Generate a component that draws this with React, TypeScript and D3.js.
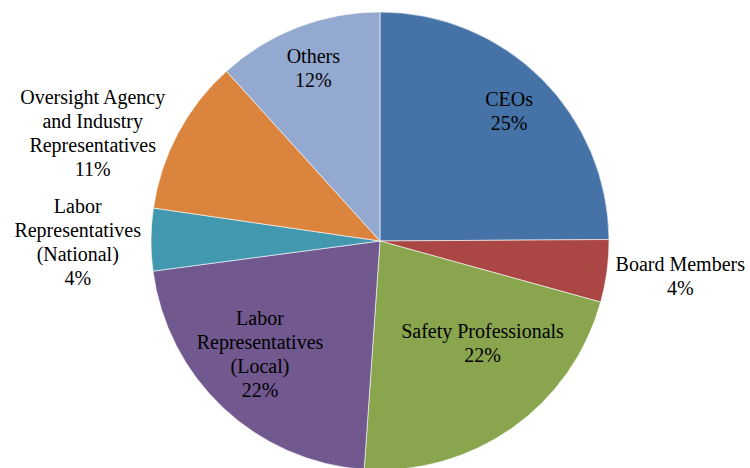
import React from "react";
import * as d3 from "d3";

const categories = [
  ["CEOs"],
  ["Board Members"],
  ["Safety Professionals"],
  ["Labor", "Representatives", "(Local)"],
  ["Labor", "Representatives", "(National)"],
  ["Oversight Agency", "and Industry", "Representatives"],
  ["Others"],
];
const values = [24.9, 4.4, 21.8, 21.8, 4.4, 11.0, 11.7];
const percentLabels = ["25%", "4%", "22%", "22%", "4%", "11%", "12%"];

const colors = ["#4572A7", "#AA4643", "#89A54E", "#71588F", "#4198AF", "#DB843D", "#93A9CF"];
// label placement: radius (fraction of pie radius) and angle offset in degrees
const labelLayout = [
  { r: 0.8, da: 0 },
  { r: 1.32, da: -1 },
  { r: 0.63, da: -10 },
  { r: 0.72, da: 3.5 },
  { r: 1.32, da: -0.6 },
  { r: 1.34, da: -7.5 },
  { r: 0.81, da: 0 },
];

export default function App() {
  const W = 750, H = 468;
  const cx = 380, cy = 241, R = 229;
  const pie = d3.pie<number>().sort(null).value((d) => d)(values);
  const arc = d3.arc<d3.PieArcDatum<number>>().innerRadius(0).outerRadius(R);
  const lineH = 24;
  const texts: { x: number; y: number; s: string }[] = [];
  pie.forEach((p, i) => {
    const mid = (p.startAngle + p.endAngle) / 2 + (labelLayout[i].da * Math.PI) / 180;
    const rr = R * labelLayout[i].r;
    const x = cx + Math.sin(mid) * rr;
    const y = cy - Math.cos(mid) * rr;
    const lines = [...categories[i], percentLabels[i]];
    const top = y - ((lines.length - 1) * lineH) / 2;
    lines.forEach((l, j) => texts.push({ x, y: top + j * lineH + 7, s: l }));
  });
  return (
    <svg width={W} height={H} style={{ position: "absolute", left: 0, top: 0 }}>
      <g transform={`translate(${cx},${cy})`}>
        {pie.map((p, i) => (
          <path key={i} d={arc(p) || ""} fill={colors[i]} stroke="#ffffff" strokeWidth={0.6} />
        ))}
      </g>
      {texts.map((t, k) => (
        <text key={k} x={t.x} y={t.y} textAnchor="middle" style={{ fontFamily: `"Tinos"`, fontSize: "20px" }}>
          {t.s}
        </text>
      ))}
    </svg>
  );
}
